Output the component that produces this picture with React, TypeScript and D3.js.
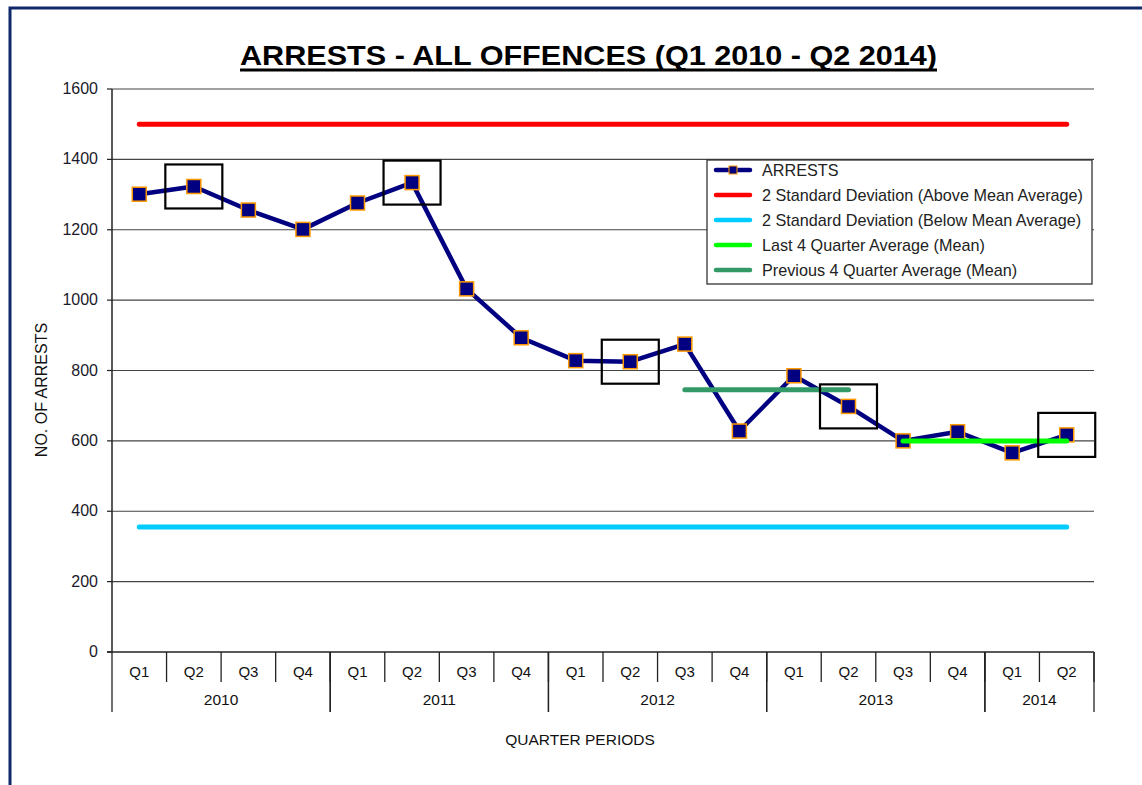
import React from 'react';
import * as d3 from 'd3';

// quarter periods (Q1 2010 - Q2 2014)
const quarters = ['Q1', 'Q2', 'Q3', 'Q4', 'Q1', 'Q2', 'Q3', 'Q4', 'Q1', 'Q2', 'Q3', 'Q4', 'Q1', 'Q2', 'Q3', 'Q4', 'Q1', 'Q2'];
const years = ['2010', '2011', '2012', '2013', '2014'];
const quartersPerYear = [4, 4, 4, 4, 2];

const arrests = [1301, 1323, 1256, 1201, 1276, 1334, 1032, 893, 828, 825, 875, 628, 785, 698, 600, 626, 566, 617];

const upperLimit = 1500;
const lowerLimit = 355;
const last4Avg = 600;
const prev4Avg = 745;
const last4Range = [14, 17];
const prev4Range = [10, 13];

const yTicks = [0, 200, 400, 600, 800, 1000, 1200, 1400, 1600];

const legendItems = [
    { label: 'ARRESTS', color: '#000080', marker: true },
    { label: '2 Standard Deviation (Above Mean Average)', color: '#ff0000' },
    { label: '2 Standard Deviation (Below Mean Average)', color: '#00ccff' },
    { label: 'Last 4 Quarter Average (Mean)', color: '#00ff00' },
    { label: 'Previous 4 Quarter Average (Mean)', color: '#339966' },
];

const font = '"Liberation Sans", Arial, sans-serif';

export default function App() {
    const width = 1142;
    const height = 785;
    const left = 112, right = 1094, top = 89, bottom = 652;

    const idx = quarters.map((q, i) => i);
    const x = d3.scaleBand<number>().domain(idx).range([left, right]).padding(0);
    const y = d3.scaleLinear().domain([0, 1600]).range([bottom, top]);
    const cx = (i: number) => (x(i) as number) + x.bandwidth() / 2;

    const line = d3.line<number>()
        .x((d, i) => cx(i))
        .y(d => y(d));

    const first = cx(0);
    const last = cx(arrests.length - 1);

    // year groups
    let start = 0;
    const yearGroups = years.map((yr, k) => {
        const g = { year: yr, from: start, to: start + quartersPerYear[k] };
        start += quartersPerYear[k];
        return g;
    });

    const highlighted = idx.filter(i => quarters[i] === 'Q2');

    return (
        <svg width={width} height={height} style={{ position: 'absolute', left: 0, top: 0, background: '#fff' }} fontFamily={font}>
            <rect x={10} y={8} width={1300} height={1000} fill="#fff" stroke="#10296b" strokeWidth={3} />

            <text x={588.5} y={65} textAnchor="middle" fontSize={28} fontWeight="bold" fill="#000"
                textLength={697} lengthAdjust="spacingAndGlyphs">
                ARRESTS - ALL OFFENCES (Q1 2010 - Q2 2014)
            </text>
            <line x1={240} x2={937} y1={70} y2={70} stroke="#000" strokeWidth={3} />

            {/* grid + y axis */}
            {yTicks.map(t => (
                <g key={t}>
                    {t > 0 && <line x1={left} x2={right} y1={y(t)} y2={y(t)} stroke="#444" strokeWidth={1.2} />}
                    <line x1={left - 5} x2={left} y1={y(t)} y2={y(t)} stroke="#222" strokeWidth={1.2} />
                    <text x={98} y={y(t) + 5} textAnchor="end" fontSize={16} fill="#1a1a2a">{t}</text>
                </g>
            ))}
            <line x1={left} x2={left} y1={top} y2={bottom} stroke="#222" strokeWidth={1.5} />
            <line x1={left - 5} x2={right} y1={bottom} y2={bottom} stroke="#222" strokeWidth={1.5} />

            {/* x axis categories */}
            {idx.map(i => (
                <g key={i}>
                    <line x1={(x(i) as number) + x.bandwidth()} x2={(x(i) as number) + x.bandwidth()} y1={bottom} y2={682} stroke="#222" strokeWidth={1.3} />
                    <text x={cx(i)} y={677} textAnchor="middle" fontSize={15} fill="#111">{quarters[i]}</text>
                </g>
            ))}
            {yearGroups.map(g => {
                const x0 = x(g.from) as number;
                const x1 = (x(g.to - 1) as number) + x.bandwidth();
                return (
                    <g key={g.year}>
                        <line x1={x0} x2={x0} y1={bottom} y2={712} stroke="#222" strokeWidth={1.3} />
                        <line x1={x1} x2={x1} y1={bottom} y2={712} stroke="#222" strokeWidth={1.3} />
                        <text x={(x0 + x1) / 2} y={705} textAnchor="middle" fontSize={15.5} fill="#111">{g.year}</text>
                    </g>
                );
            })}
            <text x={580} y={745} textAnchor="middle" fontSize={15.5} fill="#111">QUARTER PERIODS</text>
            <text transform={`translate(47,390) rotate(-90)`} textAnchor="middle" fontSize={16} fill="#111">NO. OF ARRESTS</text>

            {/* standard deviation lines */}
            <line x1={first} x2={last} y1={y(upperLimit)} y2={y(upperLimit)} stroke="#ff0000" strokeWidth={5} strokeLinecap="round" />
            <line x1={first} x2={last} y1={y(lowerLimit)} y2={y(lowerLimit)} stroke="#00ccff" strokeWidth={5} strokeLinecap="round" />

            {/* arrests series */}
            <path d={line(arrests) || ''} fill="none" stroke="#000080" strokeWidth={4.5} strokeLinejoin="round" />
            {arrests.map((v, i) => (
                <rect key={i} x={cx(i) - 7} y={y(v) - 7} width={14} height={14} fill="#000080" stroke="#ff9900" strokeWidth={1.5} />
            ))}

            {/* averages */}
            <line x1={cx(prev4Range[0])} x2={cx(prev4Range[1])} y1={y(prev4Avg)} y2={y(prev4Avg)} stroke="#339966" strokeWidth={5} strokeLinecap="round" />
            <line x1={cx(last4Range[0])} x2={cx(last4Range[1])} y1={y(last4Avg)} y2={y(last4Avg)} stroke="#00ff00" strokeWidth={5} strokeLinecap="round" />

            {/* highlight boxes */}
            {highlighted.map(i => (
                <rect key={i} x={cx(i) - 28.5} y={y(arrests[i]) - 22} width={57} height={44} fill="none" stroke="#000" strokeWidth={2.2} />
            ))}

            {/* legend */}
            <rect x={707} y={160} width={385} height={124} fill="#fff" stroke="#333" strokeWidth={1.3} />
            {legendItems.map((d, k) => {
                const ly = 170 + k * 25;
                return (
                    <g key={d.label}>
                        <line x1={716} x2={750} y1={ly} y2={ly} stroke={d.color} strokeWidth={4.5} strokeLinecap="round" />
                        {d.marker && <rect x={729} y={ly - 4} width={8} height={8} fill="#000080" stroke="#ff9900" strokeWidth={1} />}
                        <text x={762} y={ly + 5.5} fontSize={16.2} fill="#222">{d.label}</text>
                    </g>
                );
            })}
        </svg>
    );
}
